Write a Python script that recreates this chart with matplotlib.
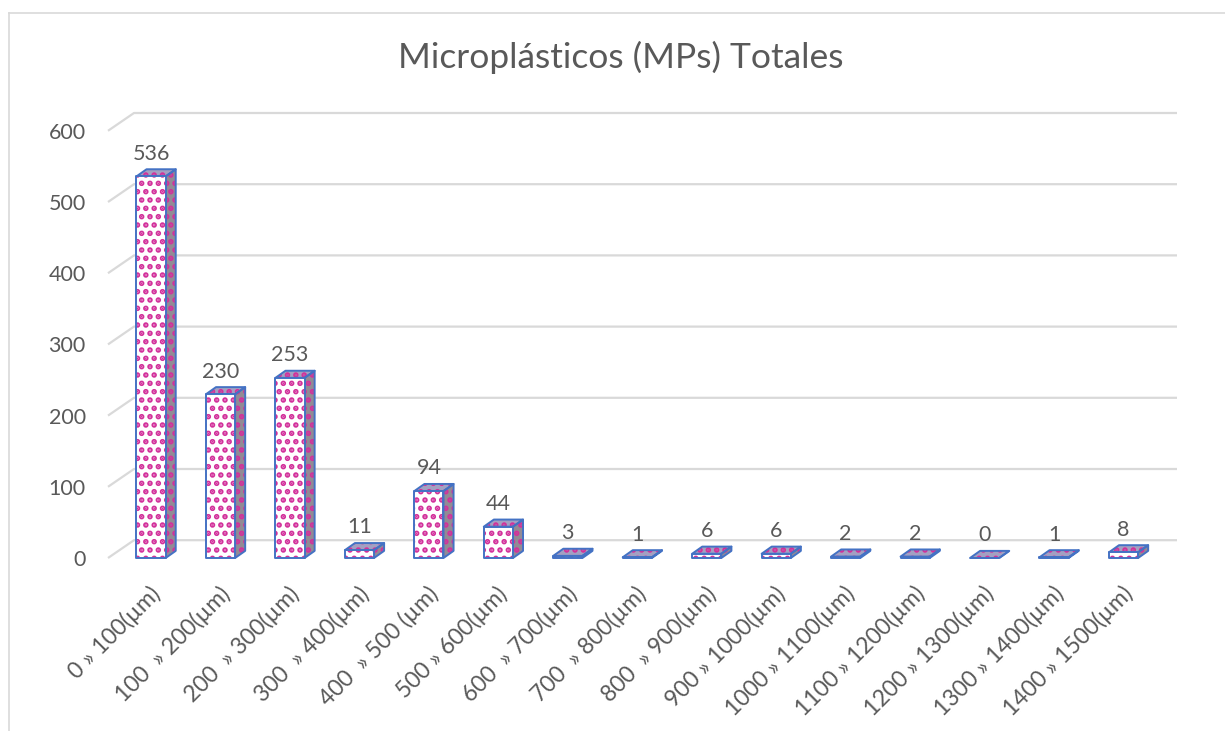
import matplotlib
matplotlib.use('Agg')
import matplotlib.pyplot as plt
from matplotlib.patches import Polygon
from matplotlib.lines import Line2D
import matplotlib.transforms as mtransforms

# ---------------- data ----------------
categories = ["0 » 100(µm)", "100  » 200(µm)", "200  » 300(µm)", "300  » 400(µm)",
              "400  » 500 (µm)", "500 » 600(µm)", "600  » 700(µm)", "700  » 800(µm)",
              "800  » 900(µm)", "900 » 1000(µm)", "1000 » 1100(µm)", "1100 » 1200(µm)",
              "1200 » 1300(µm)", "1300 » 1400(µm)", "1400 » 1500(µm)"]
values = [536, 230, 253, 11, 94, 44, 3, 1, 6, 6, 2, 2, 0, 1, 8]
yticks = [0, 100, 200, 300, 400, 500, 600]
title = "Microplásticos (MPs) Totales"

# ---------------- style ----------------
plt.rcParams['font.family'] = ['Lato', 'DejaVu Sans']
plt.rcParams['hatch.linewidth'] = 2.7
TXT = '#595959'
GRID = '#d9d9d9'
BLUE = '#4472C4'
MAG = '#D2319B'

W, H = 1225, 731
fig = plt.figure(figsize=(W / 100, H / 100), dpi=100)
fig.patch.set_facecolor('white')

# y = 0 at 558 px, 0.712 px per unit
y0px, sc = 558.0, 0.712
ylo, yhi = -5, 650
ax = fig.add_axes([108 / W, (H - (y0px - ylo * sc)) / H, (1177 - 108) / W, (yhi - ylo) * sc / H])
xl, xr = -0.62, 14.77
ax.set_xlim(xl, xr)
ax.set_ylim(ylo, yhi)
for s in ax.spines.values():
    s.set_visible(False)
ax.patch.set_alpha(0)

# 3D-ish depth parameters (data units)
bw = 0.42              # front face width
bdx, bdy = 0.145, 10   # bar depth
wdx, wdy = 0.374, 25   # back wall offset

# back-wall gridlines with side-wall diagonal
for t in yticks:
    ax.plot([xl, xl + wdx, xr], [t, t + wdy, t + wdy], color=GRID, lw=1.6,
            zorder=0, solid_capstyle='butt', clip_on=False)

def face(verts, fc, z):
    ax.add_patch(Polygon(verts, closed=True, facecolor=fc, edgecolor=MAG,
                         hatch='..', lw=0, zorder=z, clip_on=False))
    ax.add_patch(Polygon(verts, closed=True, facecolor='none', edgecolor=BLUE,
                         lw=1.4, zorder=z + 0.5, joinstyle='round', clip_on=False))

for i, v in enumerate(values):
    x0, x1 = i - bw / 2, i + bw / 2
    side = [(x1, 0), (x1 + bdx, bdy), (x1 + bdx, v + bdy), (x1, v)]
    top = [(x0, v), (x0 + bdx, v + bdy), (x1 + bdx, v + bdy), (x1, v)]
    front = [(x0, 0), (x1, 0), (x1, v), (x0, v)]
    face(side, '#938a94', 2)
    face(top, '#a3a0c2', 2)
    face(front, 'white', 3)
    ax.annotate(str(v), (i, v + bdy), xytext=(0, 4), textcoords='offset points',
                ha='center', va='bottom', fontsize=15.5, color=TXT, zorder=5)

# y tick labels
ax.set_yticks(yticks)
ax.set_yticklabels([str(t) for t in yticks], fontsize=15.5, color=TXT)
ax.tick_params(axis='y', length=0, pad=16)
ax.set_xticks([])

# category labels (rotated 45°)
lbl_tr = ax.get_xaxis_transform() + mtransforms.ScaledTranslation(-2 / 100, -21 / 100, fig.dpi_scale_trans)
for i, c in enumerate(categories):
    ax.text(i, 0, c, transform=lbl_tr, rotation=45, rotation_mode='anchor',
            ha='right', va='top', fontsize=16.5, color=TXT)

# title
fig.text(621 / W, 1 - 68 / H, title, ha='center', va='baseline', fontsize=25.5, color=TXT)

# chart border (left and top visible)
fig.add_artist(Line2D([8.5 / W, 8.5 / W], [0, 1 - 12.5 / H], transform=fig.transFigure,
                      color=GRID, lw=1.2))
fig.add_artist(Line2D([8.5 / W, 1], [1 - 12.5 / H, 1 - 12.5 / H], transform=fig.transFigure,
                      color=GRID, lw=1.2))

fig.savefig('out.png', dpi=100)
